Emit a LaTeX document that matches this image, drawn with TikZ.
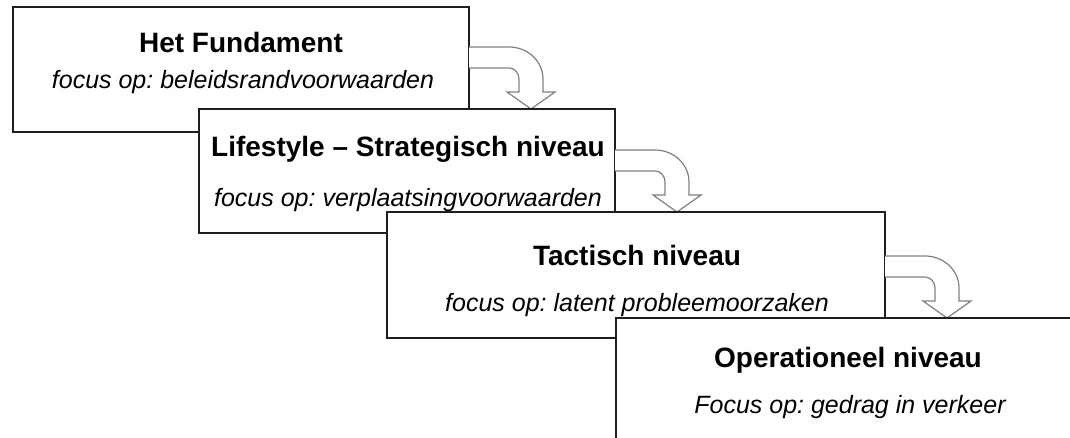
\documentclass[tikz,border=0pt]{standalone}
\usepackage{fontspec}
\setmainfont{Liberation Sans}
\begin{document}
\frenchspacing
\begin{tikzpicture}[x=0.5pt,y=-0.5pt,
  box/.style={draw=black!88, line width=1pt, fill=white, rectangle, anchor=north west, outer sep=0pt, inner sep=0pt},
  ttl/.style={anchor=base, inner sep=0pt, font=\fontsize{14pt}{16pt}\selectfont\bfseries},
  sub/.style={anchor=base, inner sep=0pt, font=\fontsize{12.5pt}{15pt}\selectfont\itshape},
  flow/.style={draw=black!50, line width=0.6pt, fill=white, line join=miter}]
\useasboundingbox (0,0) rectangle (1070,438);
\clip (0,0) rectangle (1070,438);
\newcommand{\flowshape}{%
  \path[flow] (0,-62) -- (40,-62) .. controls (58.8,-62) and (74,-47.7) .. (74,-30)
    -- (74,-17) -- (86,-17) -- (62,0) -- (38,-17) -- (50,-17) -- (50,-30)
    .. controls (50,-36.1) and (45.5,-41) .. (40,-41) -- (0,-41);}
% box 1
\node[box, minimum width=228pt, minimum height=62.5pt] (b1) at (13,7) {};
\node[ttl] (t1) at (241,53) {Het Fundament};
\node[sub] (s1) at (243,88.5) {focus op: beleidsrandvoorwaarden};
% box 2 position anchor for arrow 1
\coordinate (b2top) at (199,109);
\begin{scope}[shift={(b1.east |- b2top)}]\flowshape\end{scope}
\node[box, minimum width=208pt, minimum height=62pt] (b2) at (b2top) {};
\node[ttl] (t2) at (408,157) {Lifestyle – Strategisch niveau};
\node[sub] (s2) at (408,206.5) {focus op: verplaatsingvoorwaarden};
% box 3
\coordinate (b3top) at (387,212);
\begin{scope}[shift={(b2.east |- b3top)}]\flowshape\end{scope}
\node[box, minimum width=249pt, minimum height=63pt] (b3) at (b3top) {};
\node[ttl] (t3) at (637,265) {Tactisch niveau};
\node[sub] (s3) at (637,311.5) {focus op: latent probleemoorzaken};
% box 4
\coordinate (b4top) at (616,318);
\begin{scope}[shift={(b3.east |- b4top)}]\flowshape\end{scope}
\node[box, minimum width=240pt, minimum height=66pt] (b4) at (b4top) {};
\node[ttl] (t4) at (848,367) {Operationeel niveau};
\node[sub] (s4) at (850,413.5) {Focus op: gedrag in verkeer};
\end{tikzpicture}
\end{document}
